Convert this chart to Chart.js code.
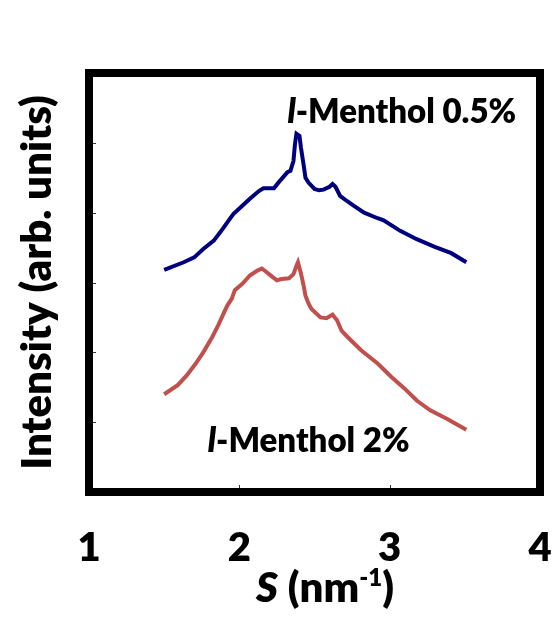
<!DOCTYPE html>
<html>
<head>
<meta charset="utf-8">
<script src="https://cdn.jsdelivr.net/npm/chart.js@4.4.1/dist/chart.umd.min.js"></script>
<style>
    html, body { margin: 0; padding: 0; background: #fff; }
</style>
</head>
<body>
<canvas id="chart" width="558" height="619"></canvas>
<script>
// scattering vector S (nm^-1) and intensity
const sBlue = [1.50, 1.63, 1.70, 1.76, 1.83, 1.88, 1.92, 1.96, 2.02, 2.07, 2.13, 2.16, 2.23, 2.26, 2.32,
    2.34, 2.36, 2.37, 2.38, 2.40, 2.41, 2.42, 2.43, 2.44, 2.46, 2.50, 2.53, 2.56, 2.60, 2.62,
    2.64, 2.67, 2.72, 2.76, 2.83, 2.92, 2.96, 3.07, 3.18, 3.30, 3.41, 3.51];
const iBlue = [3.18, 3.29, 3.36, 3.48, 3.60, 3.74, 3.86, 3.98, 4.10, 4.20, 4.31, 4.35, 4.35, 4.43, 4.58,
    4.60, 4.74, 4.98, 5.13, 5.10, 4.93, 4.79, 4.65, 4.50, 4.43, 4.34, 4.32, 4.33, 4.37, 4.41,
    4.37, 4.24, 4.16, 4.10, 4.00, 3.92, 3.89, 3.74, 3.62, 3.51, 3.42, 3.29];

const sRed = [1.50, 1.59, 1.65, 1.71, 1.76, 1.82, 1.86, 1.90, 1.92, 1.95, 1.97, 2.02, 2.07, 2.12, 2.15,
    2.18, 2.22, 2.25, 2.28, 2.33, 2.36, 2.38, 2.39, 2.41, 2.43, 2.44, 2.46, 2.48, 2.54, 2.58,
    2.62, 2.65, 2.68, 2.72, 2.81, 2.92, 3.01, 3.10, 3.18, 3.27, 3.38, 3.51];
const iRed = [1.40, 1.53, 1.67, 1.84, 2.00, 2.22, 2.39, 2.58, 2.67, 2.77, 2.89, 2.98, 3.10, 3.17, 3.20,
    3.15, 3.08, 3.03, 3.05, 3.06, 3.12, 3.24, 3.29, 3.13, 2.93, 2.81, 2.70, 2.62, 2.50, 2.49,
    2.54, 2.46, 2.31, 2.22, 2.03, 1.84, 1.65, 1.48, 1.31, 1.17, 1.05, 0.89];

// axis ticks
const xTicks = [1, 2, 3, 4];
const yTicks = [1, 2, 3, 4, 5];

const seriesLabels = ['l-Menthol 0.5%', 'l-Menthol 2%'];

const family = 'Lato, "Open Sans", sans-serif';
const weight = 800;

const toPoints = (xs, ys) => xs.map((x, i) => ({ x: x, y: ys[i] }));

// writes a run of text pieces side by side, each with its own font
const drawRun = (ctx, x, y, parts) => {
    parts.forEach((p) => {
        ctx.font = p.font;
        ctx.fillText(p.text, x, y + (p.dy || 0));
        x += ctx.measureText(p.text).width;
    });
};

const runWidth = (ctx, parts) => parts.reduce((w, p) => {
    ctx.font = p.font;
    return w + ctx.measureText(p.text).width;
}, 0);

/* thick frame, inner ticks, curve labels and the x-axis title */
const decorations = {
    id: 'decorations',
    afterDraw(chart) {
        const { ctx, chartArea: a, scales } = chart;
        const xs = scales.x;
        const ys = scales.y;

        ctx.save();
        ctx.strokeStyle = '#000';
        ctx.lineWidth = 8;
        ctx.strokeRect(a.left, a.top, a.right - a.left, a.bottom - a.top);

        ctx.lineWidth = 1;
        ctx.strokeStyle = '#333';
        ctx.beginPath();
        yTicks.forEach((v) => {
            const py = Math.round(ys.getPixelForValue(v)) + 0.5;
            ctx.moveTo(a.left + 4, py);
            ctx.lineTo(a.left + 7, py);
        });
        xTicks.slice(1, -1).forEach((v) => {
            const px = Math.round(xs.getPixelForValue(v)) + 0.5;
            ctx.moveTo(px, a.bottom - 4);
            ctx.lineTo(px, a.bottom - 7);
        });
        ctx.stroke();

        ctx.fillStyle = '#000';
        ctx.textBaseline = 'alphabetic';
        ctx.textAlign = 'left';

        const italic = `italic ${weight} 33px ${family}`;
        const bold = `${weight} 33px ${family}`;
        drawRun(ctx, xs.getPixelForValue(2.32), ys.getPixelForValue(5.29), [
            { text: 'l', font: italic },
            { text: seriesLabels[0].slice(1), font: bold }
        ]);
        drawRun(ctx, xs.getPixelForValue(1.79), ys.getPixelForValue(0.57), [
            { text: 'l', font: italic },
            { text: seriesLabels[1].slice(1), font: bold }
        ]);

        const big = `${weight} 42px ${family}`;
        const title = [
            { text: 'S', font: `italic ${weight} 42px ${family}` },
            { text: ' (nm', font: big },
            { text: '-1', font: `${weight} 24px ${family}`, dy: -16 },
            { text: ')', font: big }
        ];
        const tw = runWidth(ctx, title);
        drawRun(ctx, xs.getPixelForValue(2.57) - tw / 2, a.bottom + 110, title);
        ctx.restore();
    }
};

new Chart(document.getElementById('chart'), {
    type: 'line',
    data: {
        datasets: [
            {
                label: seriesLabels[0],
                data: toPoints(sBlue, iBlue),
                borderColor: '#00007f',
                borderWidth: 4,
                pointRadius: 0,
                tension: 0
            },
            {
                label: seriesLabels[1],
                data: toPoints(sRed, iRed),
                borderColor: '#c0504d',
                borderWidth: 4,
                pointRadius: 0,
                tension: 0
            }
        ]
    },
    plugins: [decorations],
    options: {
        responsive: false,
        animation: false,
        layout: { padding: { top: 73, right: 18, left: 0, bottom: 0 } },
        plugins: {
            legend: { display: false },
            tooltip: { enabled: false }
        },
        scales: {
            x: {
                type: 'linear',
                min: 1,
                max: 4,
                afterFit: (scale) => {
                    scale.height = 127;
                    scale.paddingLeft = 0;
                    scale.paddingRight = 0;
                },
                afterBuildTicks: (scale) => { scale.ticks = xTicks.map((v) => ({ value: v })); },
                grid: { display: false },
                border: { display: false },
                ticks: {
                    color: '#000',
                    padding: 24,
                    font: { family: family, size: 40, weight: weight }
                }
            },
            y: {
                type: 'linear',
                min: 0,
                max: 6,
                afterFit: (scale) => {
                    scale.width = 89;
                    scale.paddingTop = 0;
                    scale.paddingBottom = 0;
                },
                grid: { display: false },
                border: { display: false },
                ticks: { display: false },
                title: {
                    display: true,
                    text: 'Intensity (arb. units)',
                    color: '#000',
                    padding: { top: 12, bottom: 0 },
                    font: { family: family, size: 42, weight: weight }
                }
            }
        }
    }
});
</script>
</body>
</html>
